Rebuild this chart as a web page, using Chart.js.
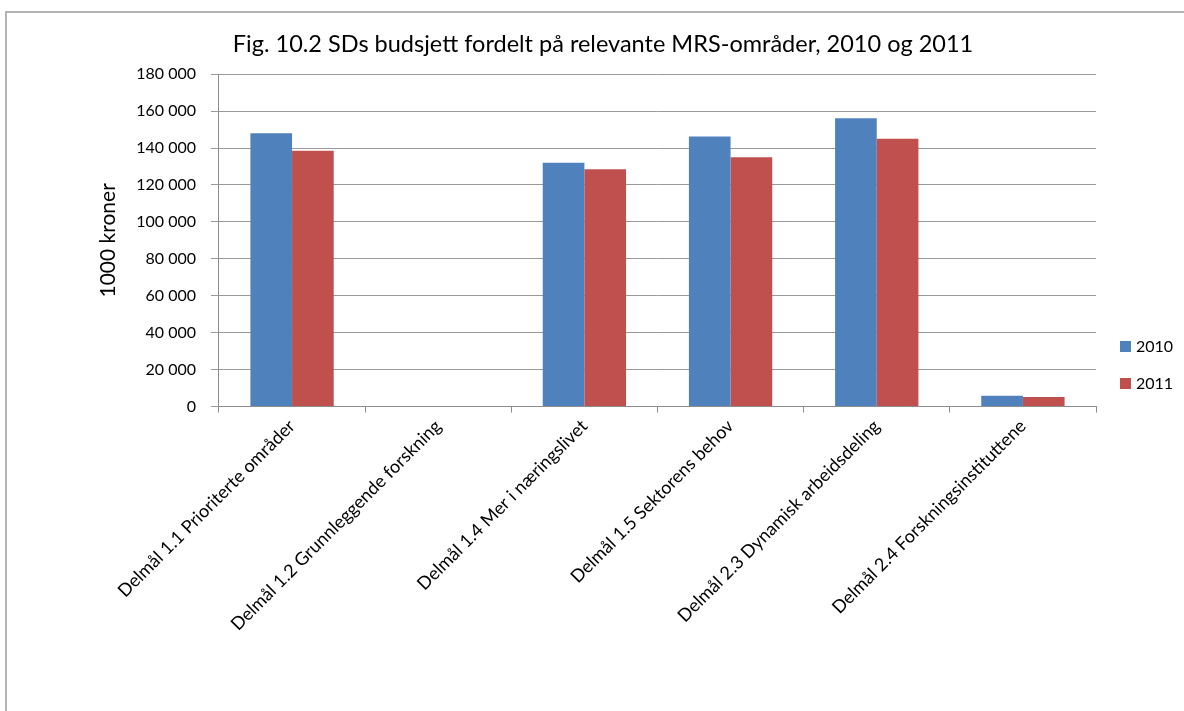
<!DOCTYPE html>
<html>
<head>
<meta charset="utf-8">
<script src="https://cdn.jsdelivr.net/npm/chart.js@4.4.0/dist/chart.umd.min.js"></script>
<style>
  body { margin: 0; background: #fff; }
  #wrap { position: relative; width: 1184px; height: 711px; overflow: hidden; }
  #frame { position: absolute; left: 5px; top: 11px; width: 1200px; height: 720px;
           border-left: 2px solid #b4b4b4; border-top: 2px solid #b4b4b4; }
  #chart { position: absolute; left: 0; top: 0; }
  .leg { position: absolute; left: 1120px; font: 16px Lato, sans-serif; color: #000; }
  .leg span { display: inline-block; width: 11px; height: 11px; margin-right: 5px; vertical-align: 0px; }
</style>
</head>
<body>
<div id="wrap">
  <div id="frame"></div>
  <canvas id="chart" width="1184" height="711"></canvas>
  <div class="leg" style="top:336px"><span style="background:#4f81bd"></span>2010</div>
  <div class="leg" style="top:373px"><span style="background:#c0504d"></span>2011</div>
</div>
<script>
  // data (1000 kroner)
  var categories = [
    'Delmål 1.1 Prioriterte områder',
    'Delmål 1.2 Grunnleggende forskning',
    'Delmål 1.4 Mer i næringslivet',
    'Delmål 1.5 Sektorens behov',
    'Delmål 2.3 Dynamisk arbeidsdeling',
    'Delmål 2.4 Forskningsinstituttene'
  ];
  var values2010 = [148000, 0, 132000, 146200, 156100, 5800];
  var values2011 = [138500, 0, 128500, 135000, 145000, 5100];
  var seriesNames = ['2010', '2011'];
  var titleText = 'Fig. 10.2 SDs budsjett fordelt på relevante MRS-områder, 2010 og 2011';
  var yTitle = '1000 kroner';

  function fmt(v) {
    return String(v).replace(/\B(?=(\d{3})+(?!\d))/g, ' ');
  }

  var font = 'Lato';

  new Chart(document.getElementById('chart'), {
    type: 'bar',
    data: {
      labels: categories,
      datasets: [{
        label: seriesNames[0],
        data: values2010,
        backgroundColor: '#4f81bd',
        categoryPercentage: 0.57,
        barPercentage: 1
      }, {
        label: seriesNames[1],
        data: values2011,
        backgroundColor: '#c0504d',
        categoryPercentage: 0.57,
        barPercentage: 1
      }]
    },
    options: {
      responsive: false,
      animation: false,
      layout: { padding: { left: 110, right: 88, top: 0, bottom: 73 } },
      plugins: {
        legend: { display: false },
        tooltip: { enabled: false },
        title: {
          display: true,
          text: titleText,
          color: '#000',
          font: { family: font, size: 23.5, weight: 'normal' },
          padding: { top: 30, bottom: 16 }
        }
      },
      scales: {
        x: {
          grid: { display: true, drawOnChartArea: false, color: '#8c8c8c', tickLength: 6, offset: true },
          border: { color: '#8c8c8c' },
          ticks: { color: '#000', font: { family: font, size: 18 }, minRotation: 45, maxRotation: 45, autoSkip: false }
        },
        y: {
          min: 0,
          max: 180000,
          grid: { color: '#9a9a9a', tickLength: 8 },
          border: { color: '#8c8c8c' },
          ticks: { stepSize: 20000, color: '#000', font: { family: font, size: 16 }, padding: 15,
                   callback: function (v) { return fmt(v); } },
          title: { display: true, text: yTitle, color: '#000', font: { family: font, size: 21 },
                   padding: { top: -14, bottom: 0 } }
        }
      }
    }
  });
</script>
</body>
</html>
